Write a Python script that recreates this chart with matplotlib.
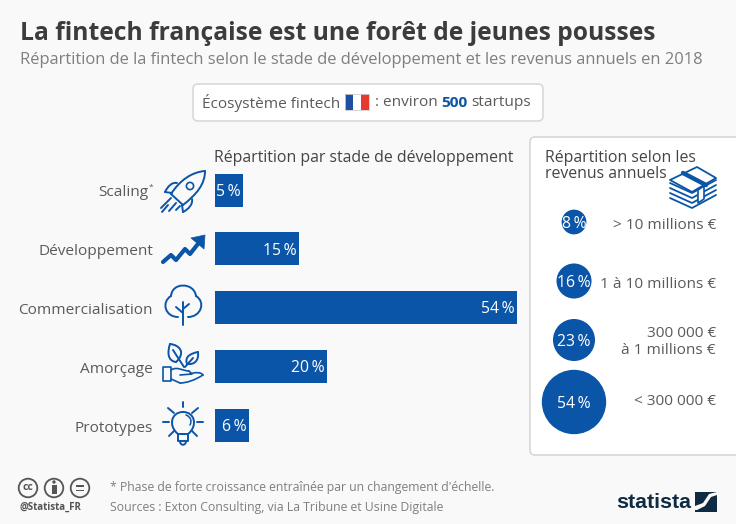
import numpy as np
import matplotlib
matplotlib.use("Agg")
import matplotlib.pyplot as plt
from matplotlib.patches import FancyBboxPatch, Rectangle, Circle, Polygon
from matplotlib.path import Path
from matplotlib.patches import PathPatch

# data
stages = ["Scaling", "Développement", "Commercialisation", "Amorçage", "Prototypes"]
stage_share = [5, 15, 54, 20, 6]
revenue_labels = ["> 10 millions €", "1 à 10 millions €", "300 000 €\nà 1 millions €", "< 300 000 €"]
revenue_share = [8, 16, 23, 54]

W, H = 736, 524
BLUE = "#0a55a8"
TXT = "#4d4d4d"
GREY = "#7f7f7f"
BG = "#f9f9f9"
plt.rcParams["font.family"] = ["Open Sans", "DejaVu Sans"]

fig = plt.figure(figsize=(W / 100, H / 100), dpi=100, facecolor=BG)

# whole figure in pixels, for text and pictograms
bgax = fig.add_axes([0, 0, 1, 1])
bgax.set_xlim(0, W)
bgax.set_ylim(H, 0)
bgax.axis("off")


def px_axes(x0, y0, x1, y1):
    a = fig.add_axes([x0 / W, 1 - y1 / H, (x1 - x0) / W, (y1 - y0) / H])
    a.patch.set_alpha(0)
    a.axis("off")
    return a


def txt(x, y, s, size=10.5, color=TXT, ha="left", va="center", **kw):
    return bgax.text(x, y, s, fontsize=size, color=color, ha=ha, va=va, **kw)


def line(pts, lw=1.4, color=BLUE, closed=False, fill="none", z=5):
    p = Polygon(pts, closed=closed, fill=fill != "none", facecolor=fill, edgecolor=color,
                lw=lw, joinstyle="round", capstyle="round", zorder=z)
    bgax.add_patch(p)


def curve(verts, lw=1.4, color=BLUE, z=5):
    # cubic segments: first point then triples
    codes = [Path.MOVETO] + [Path.CURVE4] * (len(verts) - 1)
    bgax.add_patch(PathPatch(Path(verts, codes), fc="none", ec=color, lw=lw, capstyle="round", zorder=z))


def circ(x, y, r, lw=1.4, color=BLUE, fc="none", z=5):
    bgax.add_patch(Circle((x, y), r, fc=fc, ec=color, lw=lw, zorder=z))


# heading
txt(20, 33, "La fintech française est une forêt de jeunes pousses", size=17.7, color="#3c3c3c", weight="bold")
txt(20, 60, "Répartition de la fintech selon le stade de développement et les revenus annuels en 2018",
    size=11.9, color=GREY)

# ecosystem box
bgax.add_patch(FancyBboxPatch((193, 84), 350, 37, boxstyle="round,pad=0,rounding_size=5",
                              fc="white", ec="#d6d6d6", lw=1.1))
txt(202, 103, "Écosystème fintech", size=11.1, color="#5a5a5a")
bgax.add_patch(Rectangle((345, 94), 8, 16, fc="#1f4fa3", ec="none"))
bgax.add_patch(Rectangle((353, 94), 8, 16, fc="white", ec="none"))
bgax.add_patch(Rectangle((361, 94), 8, 16, fc="#e8392e", ec="none"))
bgax.add_patch(Rectangle((345, 94), 24, 16, fc="none", ec="#cfcfcf", lw=0.6))
txt(375, 103, ": environ", size=11.1, color="#5a5a5a")
txt(441, 103, "500", size=11.1, color=BLUE, weight="bold")
txt(471, 103, "startups", size=11.1, color="#5a5a5a")

# bars
txt(214, 158, "Répartition par stade de développement", size=11.4, color="#444444")
bar_y0, bar_step = 190, 58.75
axb = px_axes(215, bar_y0 - bar_step / 2, 517, bar_y0 + 4.5 * bar_step)
ypos = np.arange(len(stages))
axb.barh(ypos, stage_share, height=33 / bar_step, color=BLUE)
axb.set_xlim(0, 54)
axb.set_ylim(len(stages) - 0.5, -0.5)
for i, v in enumerate(stage_share):
    axb.text(v - 0.4, i + 0.03, f"{v}\u2009%", color="white", fontsize=11.3, ha="right", va="center")
for i, s in enumerate(stages):
    y = bar_y0 + i * bar_step
    txt(148 if i == 0 else 153, y + 3, s, size=11.1, color="#5a5a5a", ha="right")
txt(148.5, 187, "*", size=6, color="#5a5a5a")

# rocket
curve([(205, 171), (192, 172), (180, 180), (171, 194)])
curve([(205, 171), (205, 184), (197, 194), (183, 205)])
line([(171, 194), (183, 205)])
circ(190, 186, 3.6, lw=1.2)
curve([(177, 183), (172, 182), (168, 186), (165, 192)])
line([(165, 192), (172, 193)])
curve([(192, 199), (193, 204), (189, 209), (183, 212)])
line([(183, 212), (182, 205)])
line([(171, 198), (161, 208)])
line([(176, 203), (169, 211)])
line([(168, 205), (162, 212)])
line([(180, 206), (176, 210)])

# growth arrow
line([(163, 262), (171, 255), (176, 260), (185, 249), (190, 254), (201, 240)], lw=3)
line([(191, 238), (205, 235), (204, 249)], lw=0.5, closed=True, fill=BLUE)

# tree
curve([(183, 325), (183, 317), (183, 312), (183, 302)])
line([(183, 313), (176, 307)])
line([(183, 309), (189, 304)])
curve([(178, 317), (165, 317), (161, 302), (171, 296)])
curve([(171, 296), (172, 282), (194, 282), (196, 296)])
curve([(196, 296), (206, 302), (201, 317), (188, 317)])

# plant in hand
curve([(176, 362), (168, 361), (167, 353), (170, 344)])
curve([(170, 344), (180, 345), (186, 353), (176, 362)])
line([(173, 350), (184, 367)])
curve([(187, 364), (185, 358), (188, 354), (198, 352)])
curve([(198, 352), (199, 360), (195, 365), (187, 364)])
line([(193, 358), (185, 367)])
line([(163, 367), (171, 367), (171, 381), (163, 381)], closed=True, lw=1.2)
curve([(171, 370), (177, 366), (183, 371), (189, 371)], lw=1.2)
line([(189, 371), (192, 374), (180, 375)], lw=1.2)
curve([(190, 374), (195, 372), (201, 372), (203, 375)], lw=1.2)
curve([(203, 375), (195, 380), (187, 383), (180, 383)], lw=1.2)
line([(180, 383), (171, 379)], lw=1.2)

# light bulb
curve([(178, 434), (168, 426), (171, 412), (183, 412)])
curve([(183, 412), (195, 412), (198, 426), (188, 434)])
line([(178, 434), (188, 434), (188, 441), (178, 441)], closed=True)
curve([(180, 441), (180, 446), (186, 446), (186, 441)])
curve([(190, 425), (192, 421), (191, 417), (186, 415)], lw=1.1)
rays = [(183, 402, 183, 407), (168, 408, 174, 413), (198, 408, 192, 413), (163, 422, 169, 422),
        (197, 422, 203, 422), (169, 436, 174, 431), (197, 436, 192, 431)]
for x0, y0, x1, y1 in rays:
    line([(x0, y0), (x1, y1)])

# revenue panel
bgax.add_patch(FancyBboxPatch((530, 137), 230, 318, boxstyle="round,pad=0,rounding_size=5",
                              fc="white", ec="#d4d4d4", lw=1.1))
txt(545, 157.5, "Répartition selon les", size=11.4, color="#444444")
txt(545, 174, "revenus annuels", size=11.4, color="#444444")

# banknotes
for dy in (15, 10, 5, 0):
    line([(670, 183 + dy), (692, 193 + dy), (716, 180 + dy)], lw=1.3)
line([(670, 180), (697, 167), (716, 178), (692, 192)], closed=True, lw=1.3, fill="white", z=6)
line([(683, 173), (706, 185)], lw=3.2, z=7)
line([(698, 190), (704, 186), (704, 199), (698, 203)], closed=True, lw=1.2, fill="white", z=7)

rev_y = [222, 281, 340, 402]
axr = px_axes(530, 137, 736, 455)
axr.set_xlim(530, 736)
axr.set_ylim(455, 137)
# marker area follows the share
axr.scatter([574] * len(revenue_share), rev_y, s=[v * (2 * 4.38 * 0.72) ** 2 for v in revenue_share],
            color=BLUE, linewidths=0, clip_on=False)
for y, v in zip(rev_y, revenue_share):
    axr.text(574, y + 1.5, f"{v}\u2009%", color="white", fontsize=11.3, ha="center", va="center")
rev_txt_y = [225, 284, 342, 401]
for y, s in zip(rev_txt_y, revenue_labels):
    axr.text(716, y, s, color="#5a5a5a", fontsize=11.1, ha="right", va="center", linespacing=1.15)

# footer
for x in (28, 54, 80):
    circ(x, 488, 9.3, lw=1.3, color="#555555")
txt(28, 487.5, "cc", size=7.5, color="#555555", ha="center", weight="bold")
circ(54, 482, 1.7, lw=0, color="#555555", fc="#555555")
bgax.add_patch(Rectangle((51.5, 485), 5, 9, fc="#555555", ec="none", zorder=5))
bgax.add_patch(Rectangle((76, 485), 8, 1.7, fc="#555555", ec="none", zorder=5))
bgax.add_patch(Rectangle((76, 489.5), 8, 1.7, fc="#555555", ec="none", zorder=5))
txt(19, 507, "@Statista_FR", size=7, color="#555555", weight="bold")
txt(110, 488, "* Phase de forte croissance entraînée par un changement d'échelle.", size=8.82, color=GREY)
txt(110, 507.5, "Sources : Exton Consulting, via La Tribune et Usine Digitale", size=8.82, color=GREY)

txt(616, 502, "statista", size=15.4, color="#0f2a43", weight="bold", family=["Liberation Sans"])
bgax.add_patch(Rectangle((695, 492), 22, 20, fc="#0f2a43", ec="none"))
bgax.add_patch(Polygon([(695, 506), (703, 503), (709, 494), (717, 492), (717, 495), (711, 497),
                        (705, 506), (697, 510), (695, 510)], closed=True, fc=BG, ec="none", zorder=6))

fig.savefig("out.png", dpi=100, facecolor=BG)
